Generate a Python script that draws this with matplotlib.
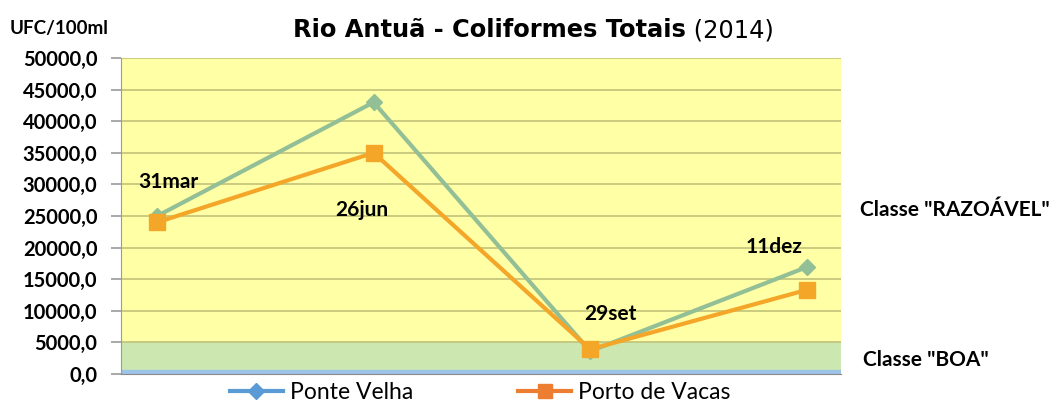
import matplotlib.pyplot as plt
from matplotlib.ticker import FuncFormatter

# Data
dates = ["31mar", "26jun", "29set", "11dez"]
ponte_velha = [25000, 43000, 3600, 16900]
porto_de_vacas = [24000, 35000, 3900, 13300]

y_ticks = list(range(0, 50001, 5000))


def main():
    plt.rcParams['font.family'] = ['Lato', 'DejaVu Sans']

    fig = plt.figure(figsize=(10.53, 4.03), dpi=100)
    ax = fig.add_axes([0.1149, 0.072, 0.684, 0.784])

    x = list(range(len(dates)))

    # Quality class bands
    ax.axhspan(5000, 50000, color="#FFFFA6", zorder=0)
    ax.axhspan(600, 5000, color="#CCE8B0", zorder=0)
    ax.axhspan(0, 600, color="#9DC3E6", zorder=0)

    for t in y_ticks[1:]:
        ax.axhline(t, color="#C2C27A", lw=1.2, zorder=1)

    ax.plot(x, ponte_velha, color="#93BF96", lw=3, marker="D", ms=8, zorder=3)
    ax.plot(x, porto_de_vacas, color="#F4A629", lw=3, marker="s", ms=11, zorder=4)

    # Legend handles keep the original series colours
    ax.plot([], [], color="#5B9BD5", lw=3, marker="D", ms=8, label="Ponte Velha")
    ax.plot([], [], color="#ED7D31", lw=3, marker="s", ms=10, label="Porto de Vacas")

    ax.set_xlim(-0.167, 3.16)
    ax.set_ylim(0, 50000)
    ax.set_yticks(y_ticks)
    ax.yaxis.set_major_formatter(FuncFormatter(lambda v, _: f"{v:.1f}".replace(".", ",")))
    ax.set_xticks([])
    for lbl in ax.get_yticklabels():
        lbl.set_fontweight("bold")
    ax.tick_params(axis="y", labelsize=14.5, length=7, pad=10, color="#9A9A9A", width=1.2)

    for side in ["top", "right"]:
        ax.spines[side].set_visible(False)
    ax.spines["left"].set_color("#9A9A9A")
    ax.spines["bottom"].set_color("#8A8A8A")

    # Date labels next to the points
    ax.text(-0.088, 29400, dates[0], fontsize=15, fontweight="bold")
    ax.text(0.824, 25000, dates[1], fontsize=15, fontweight="bold")
    ax.text(1.972, 8600, dates[2], fontsize=15, fontweight="bold")
    ax.text(2.72, 19100, dates[3], fontsize=15, fontweight="bold")

    fig.text(0.651, 0.925, "Rio Antuã - Coliformes Totais", fontsize=17.4, fontweight="bold",
             family="DejaVu Sans", ha="right", va="center")
    fig.text(0.651, 0.925, " (2014)", fontsize=17.4, family="DejaVu Sans", ha="left", va="center")
    fig.text(0.0095, 0.93, "UFC/100ml", fontsize=13.5, fontweight="bold", va="center")

    fig.text(0.817, 0.479, 'Classe "RAZOÁVEL"', fontsize=15, fontweight="bold", va="center")
    fig.text(0.820, 0.107, 'Classe "BOA"', fontsize=15, fontweight="bold", va="center")

    fig.legend(loc="center", bbox_to_anchor=(0.456, 0.027), ncol=2, frameon=False,
               fontsize=16.5, handlelength=2.3, columnspacing=4.6, handletextpad=0.3)

    fig.savefig("out.png", dpi=100)


if __name__ == "__main__":
    main()
